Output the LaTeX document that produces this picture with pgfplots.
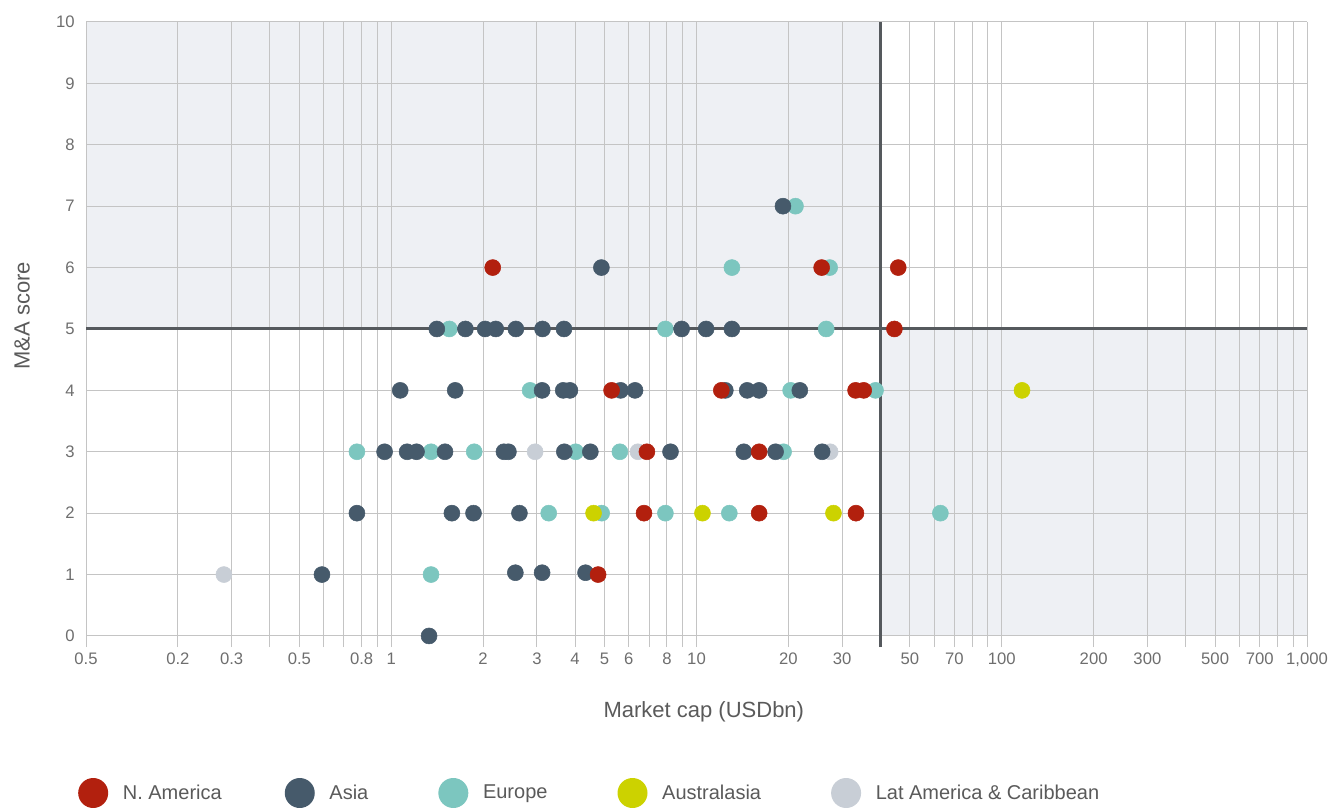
\documentclass[border=0pt]{standalone}
\usepackage{fontspec}
\setmainfont{Liberation Sans}
\usepackage{pgfplots}
\usepackage{pgfplotstable}
\pgfplotsset{compat=1.18}
\definecolor{namc}{HTML}{B2200E}
\definecolor{asiac}{HTML}{465A6B}
\definecolor{eurc}{HTML}{7CC6BF}
\definecolor{ausc}{HTML}{CCD200}
\definecolor{latc}{HTML}{C8CED6}
\definecolor{shadec}{HTML}{EEF0F4}
\definecolor{gridc}{HTML}{C4C4C4}
\definecolor{linec}{HTML}{55595D}
\definecolor{tickc}{HTML}{6E6E6E}
\definecolor{labc}{HTML}{5A5A5A}

\pgfplotstableread{
x y
2.15 6
25.7 6
45.8 6
44.5 5
5.27 4
12.06 4
33.2 4
35.3 4
6.88 3
16.04 3
6.73 2
16.04 2
33.3 2
4.76 1
}\namdata

\pgfplotstableread{
x y
19.2 7
4.88 6
1.41 5
1.75 5
2.03 5
2.20 5
2.56 5
3.13 5
3.68 5
8.94 5
10.75 5
13.06 5
1.07 4
1.62 4
3.12 4
3.66 4
3.85 4
5.64 4
6.29 4
12.43 4
14.66 4
16.04 4
21.8 4
0.951 3
1.127 3
1.21 3
1.50 3
2.34 3
2.42 3
3.69 3
4.49 3
8.22 3
14.29 3
18.16 3
25.8 3
0.772 2
1.58 2
1.86 2
2.63 2
0.593 1
2.55 1.03
3.12 1.03
4.33 1.03
1.33 0
}\asiadata

\pgfplotstableread{
x y
21.1 7
13.06 6
27.3 6
1.55 5
7.91 5
26.6 5
2.85 4
20.34 4
38.6 4
0.772 3
1.35 3
1.87 3
4.02 3
5.61 3
19.29 3
3.28 2
4.89 2
7.91 2
12.81 2
62.95 2
1.35 1
}\eurdata

\pgfplotstableread{
x y
4.60 2
10.46 2
28.1 2
116.5 4
}\ausdata

\pgfplotstableread{
x y
2.96 3
6.43 3
27.4 3
0.283 1
}\latdata

\begin{document}
\begin{tikzpicture}
\begin{axis}[
  set layers,
  scale only axis,
  width=915.75pt, height=468.75pt,
  xmode=log,
  xmin=0.1, xmax=1000, ymin=-0.18, ymax=10,
  xtick={0.1,0.2,0.3,0.5,0.8,1,2,3,4,5,6,8,10,20,30,50,70,100,200,300,500,700,1000},
  xticklabels={0.5,0.2,0.3,0.5,0.8,1,2,3,4,5,6,8,10,20,30,50,70,100,200,300,500,700,{1,000}},
  minor xtick={0.4,0.6,0.7,0.9,7,9,40,60,80,90,400,600,800,900},
  ytick={0,1,2,3,4,5,6,7,8,9,10},
  grid=both,
  major grid style={draw=gridc, line width=0.75pt},
  minor grid style={draw=gridc, line width=0.75pt},
  axis line style={draw=none},
  major tick length=0pt, minor tick length=0pt,
  tick label style={font=\fontsize{12.5}{15}\selectfont, text=tickc},
  /pgf/number format/assume math mode=true,
  yticklabel style={xshift=-5pt},
  xticklabel style={yshift=-1pt},
  xlabel={Market cap (USDbn)},
  ylabel={M\&A score},
  label style={font=\fontsize{16.5}{20}\selectfont, text=labc},
  xlabel style={at={(axis description cs:0.506,-0.104)}, anchor=center},
  ylabel style={at={(axis description cs:-0.0524,0.53)}, anchor=center},
  legend image code/.code={\fill[#1,draw=none] (0pt,0pt) circle[radius=11.25pt];},
  legend style={draw=none, fill=none, legend columns=5,
    at={(axis description cs:-0.0066,-0.2336)}, anchor=west, inner sep=0pt,
    font=\fontsize{15}{18}\selectfont, text=labc,
    /tikz/every odd column/.append style={column sep=9pt},
    /tikz/column 2/.style={column sep=45.25pt},
    /tikz/column 4/.style={column sep=50.5pt},
    /tikz/column 6/.style={column sep=50.5pt},
    /tikz/column 8/.style={column sep=50.5pt}},
  legend cell align=left,
]
\begin{pgfonlayer}{axis background}
  \fill[shadec] (axis cs:0.1,5) rectangle (axis cs:40,10);
  \fill[shadec] (axis cs:40,0) rectangle (axis cs:1000,5);
\end{pgfonlayer}
\draw[draw=linec, line width=2.25pt] (axis cs:0.1,5) -- (axis cs:1000,5);
\draw[draw=linec, line width=2.25pt] (axis cs:40,-0.18) -- (axis cs:40,10);

\addlegendimage{fill=namc}
\addlegendimage{fill=asiac}
\addlegendimage{fill=eurc}
\addlegendimage{fill=ausc}
\addlegendimage{fill=latc}

\addplot[only marks, mark=*, mark size=6pt, color=latc, mark options={draw=none, fill=latc}, forget plot] table {\latdata};
\addplot[only marks, mark=*, mark size=6pt, color=eurc, mark options={draw=none, fill=eurc}, forget plot] table {\eurdata};
\addplot[only marks, mark=*, mark size=6pt, color=asiac, mark options={draw=none, fill=asiac}, forget plot] table {\asiadata};
\addplot[only marks, mark=*, mark size=6pt, color=ausc, mark options={draw=none, fill=ausc}, forget plot] table {\ausdata};
\addplot[only marks, mark=*, mark size=6pt, color=namc, mark options={draw=none, fill=namc}, forget plot] table {\namdata};

\legend{N. America, Asia, Europe, Australasia, Lat America \& Caribbean}
\end{axis}
\pgfresetboundingbox
\path (-64.5pt,-120pt) rectangle (935.25pt,485.25pt);
\end{tikzpicture}
\end{document}
